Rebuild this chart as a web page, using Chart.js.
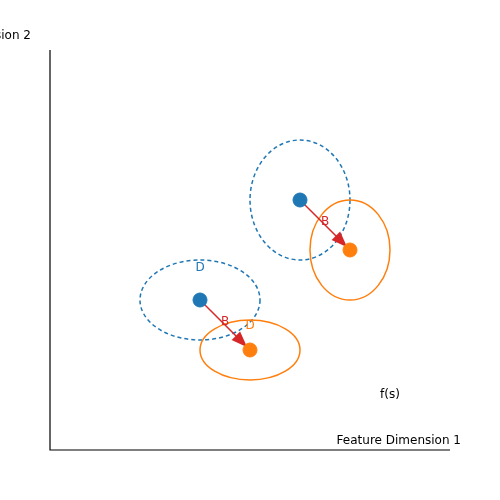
<!DOCTYPE html><html><head><script src="https://cdn.jsdelivr.net/npm/chart.js@4"></script>
<style>body{margin:0}#w{width:500px;height:500px}</style></head><body><div id="w"><canvas id="c"></canvas></div>
<script>
const blueX=[3,5], blueY=[3,5];
const orangeX=[4,6], orangeY=[2,4];
// ellipses: [cx, cy, rx, ry, color, dashed]
const ellipses=[[3,3,1.2,0.8,'#1f77b4',true],[4,2,1,0.6,'#ff7f0e',false],[5,5,1,1.2,'#1f77b4',true],[6,4,0.8,1,'#ff7f0e',false]];
const labels=[[3,3.65,'D','#1f77b4'],[3.5,2.57,'B','#d62728'],[4,2.49,'D','#ff7f0e'],[5.5,4.57,'B','#d62728'],[6.8,1.1,'f(s)','#000']];
const BL='#1f77b4',OR='#ff7f0e',RD='#d62728';
const deco={id:'deco',beforeDatasetsDraw(ch){const c=ch.ctx,x=ch.scales.x,y=ch.scales.y;c.save();
ellipses.forEach(e=>{c.beginPath();c.setLineDash(e[5]?[4,3]:[]);c.strokeStyle=e[4];c.lineWidth=1.5;
c.ellipse(x.getPixelForValue(e[0]),y.getPixelForValue(e[1]),Math.abs(x.getPixelForValue(e[0]+e[2])-x.getPixelForValue(e[0])),Math.abs(y.getPixelForValue(e[1]+e[3])-y.getPixelForValue(e[1])),0,0,2*Math.PI);c.stroke();});
c.setLineDash([]);
for(let i=0;i<blueX.length;i++){const x0=x.getPixelForValue(blueX[i]),y0=y.getPixelForValue(blueY[i]),x1=x.getPixelForValue(orangeX[i]),y1=y.getPixelForValue(orangeY[i]);
const a=Math.atan2(y1-y0,x1-x0),tx=x1-4*Math.cos(a),ty=y1-4*Math.sin(a);
c.strokeStyle=RD;c.lineWidth=1.5;c.beginPath();c.moveTo(x0,y0);c.lineTo(tx-14*Math.cos(a),ty-14*Math.sin(a));c.stroke();
c.fillStyle=RD;c.beginPath();c.moveTo(tx,ty);c.lineTo(tx-16*Math.cos(a)+6*Math.sin(a),ty-16*Math.sin(a)-6*Math.cos(a));c.lineTo(tx-16*Math.cos(a)-6*Math.sin(a),ty-16*Math.sin(a)+6*Math.cos(a));c.closePath();c.fill();}
c.strokeStyle='#000';c.lineWidth=1.2;c.beginPath();c.moveTo(ch.chartArea.left,ch.chartArea.top);c.lineTo(ch.chartArea.left,ch.chartArea.bottom);c.lineTo(ch.chartArea.right,ch.chartArea.bottom);c.stroke();
c.font='12px "DejaVu Sans"';c.textAlign='center';c.textBaseline='middle';
labels.forEach(l=>{c.fillStyle=l[3];c.fillText(l[2],x.getPixelForValue(l[0]),y.getPixelForValue(l[1]));});
c.fillStyle='#000';c.textAlign='right';c.fillText('Feature Dimension 1',461,441);c.fillText('Feature Dimension 2',31,36);
c.restore();}};
new Chart(document.getElementById('c'),{type:'scatter',data:{datasets:[
{data:blueX.map((v,i)=>({x:v,y:blueY[i]})),backgroundColor:BL,borderColor:BL,pointRadius:7},
{data:orangeX.map((v,i)=>({x:v,y:orangeY[i]})),backgroundColor:OR,borderColor:OR,pointRadius:7}]},
options:{responsive:true,maintainAspectRatio:false,animation:false,layout:{padding:50},
plugins:{legend:{display:false},tooltip:{enabled:false}},
scales:{x:{display:false,min:0,max:8},y:{display:false,min:0,max:8}}},plugins:[deco]});
</script></body></html>
